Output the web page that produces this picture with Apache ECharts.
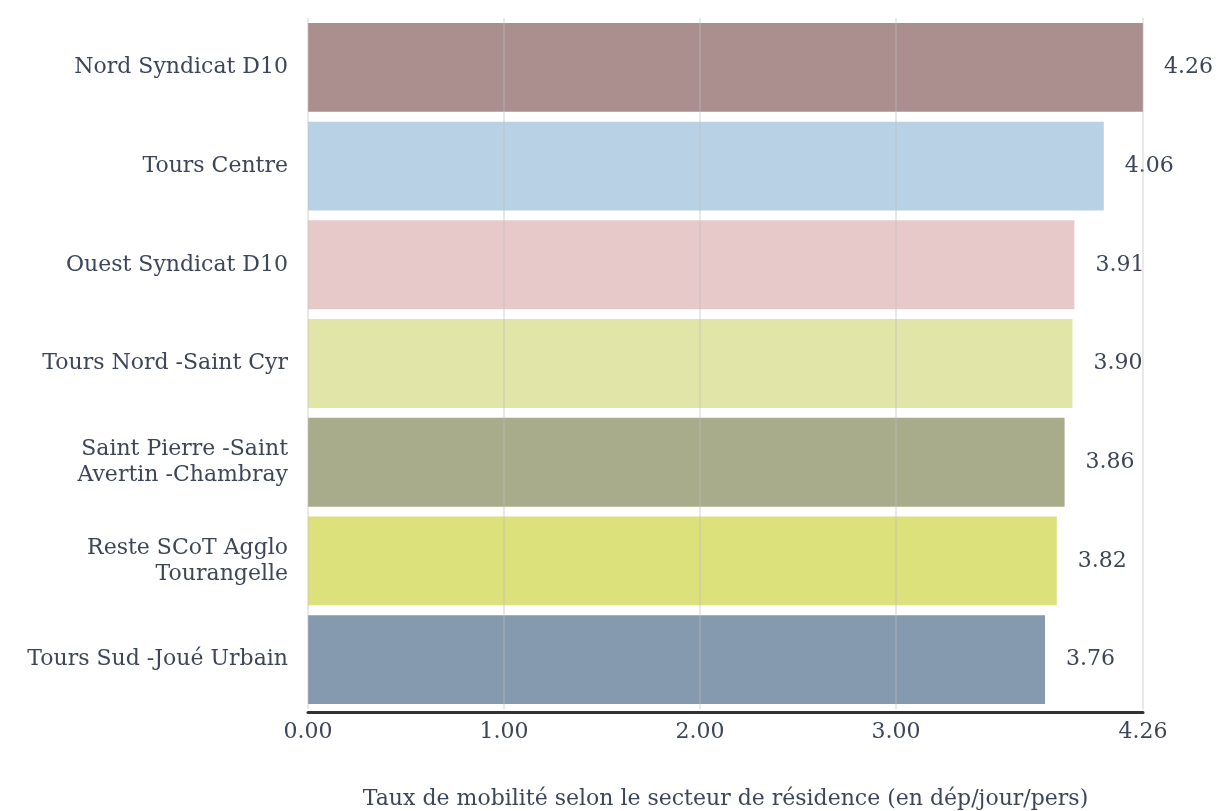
<!DOCTYPE html>
<html>
<head>
<meta charset="utf-8">
<script src="https://cdn.jsdelivr.net/npm/echarts@6/dist/echarts.min.js"></script>
<style>html,body{margin:0;padding:0;background:#fff}#c{width:1218px;height:811px}</style>
</head>
<body>
<div id="c"></div>
<script>
const categories = ["Nord Syndicat D10", "Tours Centre", "Ouest Syndicat D10", "Tours Nord -Saint Cyr", "Saint Pierre -Saint\nAvertin -Chambray", "Reste SCoT Agglo\nTourangelle", "Tours Sud -Joué Urbain"];
const values = [4.26, 4.06, 3.91, 3.90, 3.86, 3.82, 3.76];
const barColors = ["#AB8E8E", "#B9D1E5", "#E7C9CA", "#E1E5A8", "#A9AC8A", "#DCE17C", "#8599AF"];
const xTicks = [0, 1, 2, 3, 4.26];
const axisTitle = "Taux de mobilité selon le secteur de résidence (en dép/jour/pers)";

const FONT = '"DejaVu Serif", "Liberation Serif", serif';
const TXT = '#3d4658';
const chart = echarts.init(document.getElementById('c'));
chart.setOption({
  animation: false,
  grid: { left: 308, right: 75, top: 18, bottom: 102, outerBoundsMode: 'none', containLabel: false },
  xAxis: {
    type: 'value', min: 0, max: 4.26,
    z: 3, offset: 3,
    name: axisTitle, nameLocation: 'middle', nameGap: 76,
    nameTextStyle: { fontFamily: FONT, fontSize: 22, color: TXT },
    axisLine: { show: true, lineStyle: { color: '#333', width: 3 } },
    axisTick: { show: false, customValues: xTicks },
    axisLabel: { customValues: xTicks, fontFamily: FONT, fontSize: 22, color: TXT, margin: 9,
      formatter: v => v.toFixed(2) },
    splitLine: { show: true, lineStyle: { color: 'rgba(190,190,190,0.35)', width: 2 } }
  },
  yAxis: {
    type: 'category', data: categories, inverse: true,
    axisLine: { show: false }, axisTick: { show: false },
    axisLabel: { fontFamily: FONT, fontSize: 22, color: TXT, margin: 20, lineHeight: 26 }
  },
  series: [{
    type: 'bar',
    data: values.map((v, i) => ({ value: v, itemStyle: { color: barColors[i] } })),
    barCategoryGap: '10%',
    label: { show: true, position: 'right', distance: 21, fontFamily: FONT, fontSize: 22, color: TXT,
      formatter: p => p.value.toFixed(2) }
  }]
});
</script>
</body>
</html>
